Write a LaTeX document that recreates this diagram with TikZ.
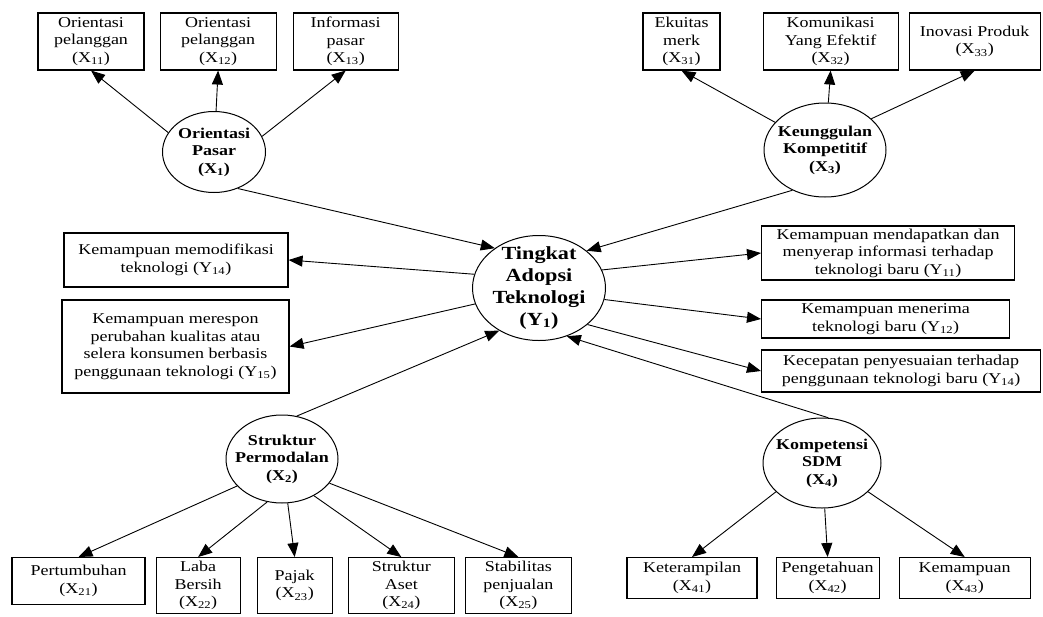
\documentclass[tikz,border=0pt]{standalone}
\usepackage{fontspec}
\setmainfont{Liberation Serif}[FakeStretch=1.2]
\usetikzlibrary{shapes.geometric, arrows.meta, positioning}

\begin{document}
\begin{tikzpicture}[x=1pt, y=-1pt, >={Triangle[length=14pt,width=11pt]}]
\tikzset{every node/.append style={font=\fontsize{15}{17.5}\selectfont}}
\tikzset{box/.style={draw, rectangle, line width=1.1pt, inner sep=0pt, align=center}}
\tikzset{bold/.style={font=\fontsize{15}{17.5}\selectfont\bfseries, align=center}}
\tikzset{big/.style={font=\fontsize{18.5}{21.7}\selectfont\bfseries, align=center}}
\tikzset{latent/.style={draw, ellipse, line width=1pt, inner sep=0pt, label={[bold]center:#1}}}
\tikzset{link/.style={->, line width=0.9pt}}
\useasboundingbox (0,0) rectangle (1043,616);
\node[box, minimum width=106, minimum height=57] (x11) at (91,41.5) {Orientasi\\pelanggan\\(X\textsubscript{11})};
\node[box, minimum width=116, minimum height=57, right=15pt of x11] (x12) {Orientasi\\pelanggan\\(X\textsubscript{12})};
\node[box, minimum width=105, minimum height=57, right=16pt of x12] (x13) {Informasi\\pasar\\(X\textsubscript{13})};
\node[box, minimum width=77, minimum height=57] (x31) at (681.5,41.5) {Ekuitas\\merk\\(X\textsubscript{31})};
\node[box, minimum width=135, minimum height=57, right=42pt of x31] (x32) {Komunikasi\\Yang Efektif\\(X\textsubscript{32})};
\node[box, minimum width=131, minimum height=57, right=10pt of x32] (x33) {Inovasi Produk\\(X\textsubscript{33})};
\node[latent={Orientasi\\Pasar\\(X\textsubscript{1})}, minimum width=103, minimum height=81] (x1) at (214,152) {};
\node[latent={Keunggulan\\Kompetitif\\(X\textsubscript{3})}, minimum width=122, minimum height=94] (x3) at (825,150) {};
\node[draw, ellipse, line width=1pt, inner sep=0pt, minimum width=133, minimum height=105, label={[big]center:Tingkat\\Adopsi\\Teknologi\\(Y\textsubscript{1})}] (y1) at (539,288) {};
\node[latent={Struktur\\Permodalan\\(X\textsubscript{2})}, minimum width=112, minimum height=88] (x2) at (282,459) {};
\node[latent={Kompetensi\\SDM\\(X\textsubscript{4})}, minimum width=118, minimum height=90] (x4) at (822,463) {};
\node[box, minimum width=224, minimum height=54] (y14l) at (176,260) {Kemampuan memodifikasi\\teknologi (Y\textsubscript{14})};
\node[box, minimum width=227, minimum height=93] (y15) at (175.5,346.5) {Kemampuan merespon\\perubahan kualitas atau\\selera konsumen berbasis\\penggunaan teknologi (Y\textsubscript{15})};
\node[box, anchor=west, minimum width=253, minimum height=54] (y11) at (761,253) {Kemampuan mendapatkan dan\\menyerap informasi terhadap\\teknologi baru (Y\textsubscript{11})};
\node[box, anchor=west, minimum width=248, minimum height=38] (y12) at (761,319) {Kemampuan menerima\\teknologi baru (Y\textsubscript{12})};
\node[box, anchor=west, minimum width=279, minimum height=42] (y14r) at (761,371) {Kecepatan penyesuaian terhadap\\penggunaan teknologi baru (Y\textsubscript{14})};
\node[box, anchor=north, minimum width=133, minimum height=47] (x21) at (78.5,557) {Pertumbuhan\\(X\textsubscript{21})};
\node[box, minimum width=84, minimum height=56, right=10pt of x21.north east, anchor=north west] (x22) {Laba\\Bersih\\(X\textsubscript{22})};
\node[box, minimum width=75, minimum height=56, right=16pt of x22.north east, anchor=north west] (x23) {Pajak\\(X\textsubscript{23})};
\node[box, minimum width=106, minimum height=56, right=15pt of x23.north east, anchor=north west] (x24) {Struktur\\Aset\\(X\textsubscript{24})};
\node[box, minimum width=106, minimum height=56, right=10pt of x24.north east, anchor=north west] (x25) {Stabilitas\\penjualan\\(X\textsubscript{25})};
\node[box, anchor=north, minimum width=130, minimum height=41] (x41) at (692,557) {Keterampilan\\(X\textsubscript{41})};
\node[box, minimum width=103, minimum height=41, right=18pt of x41] (x42) {Pengetahuan\\(X\textsubscript{42})};
\node[box, minimum width=131, minimum height=41, right=19pt of x42] (x43) {Kemampuan\\(X\textsubscript{43})};
\draw[link] (x1.157) -- (x11.south);
\draw[link] (x1) -- (x12.south);
\draw[link] (x1.18) -- (x13.south);
\draw[link] (x3.151) -- (x31.south);
\draw[link] (x3) -- (x32.south);
\draw[link] (x3.34) -- (x33.south);
\draw[link] (x1.303) -- (y1.138);
\draw[link] (x3.231) -- (y1.38);
\draw[link] (x2.71) -- (y1.227);
\draw[link] (x4.82) -- (y1.300);
\draw[link] (y1.168) -- (y14l.east);
\draw[link] (y1.194) -- (y15.east);
\draw[link] (y1.16) -- (y11.west);
\draw[link] (y1.350) -- (y12.west);
\draw[link] (y1.323) -- (y14r.west);
\draw[link] (x2.211) -- (x21.north);
\draw[link] (x2.251) -- (x22.north);
\draw[link] (x2) -- (x23.north);
\draw[link] (x2.311) -- (x24.north);
\draw[link] (x2.333) -- (x25.north);
\draw[link] (x4.212) -- (x41.north);
\draw[link] (x4) -- (x42.north);
\draw[link] (x4.328) -- (x43.north);
\end{tikzpicture}
\end{document}
